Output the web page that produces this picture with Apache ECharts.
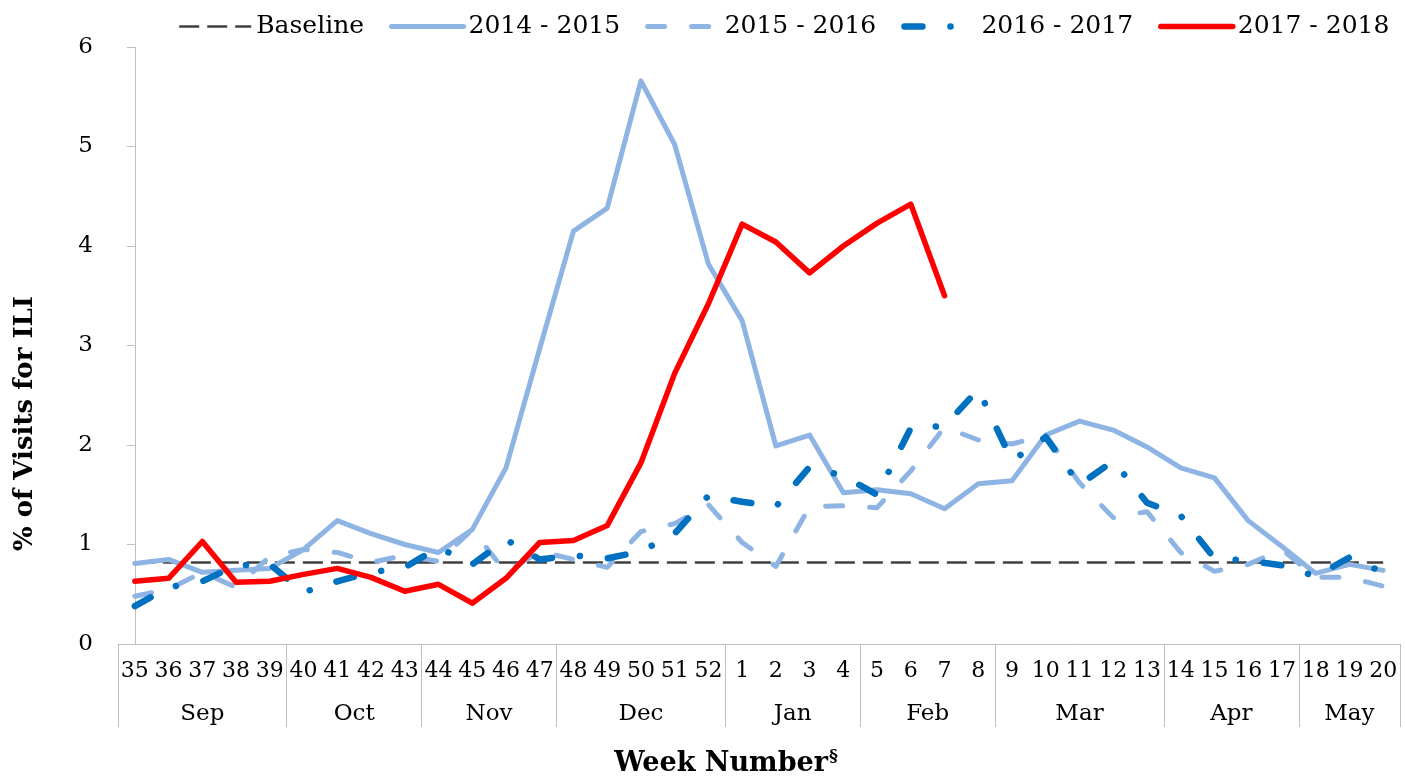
<!DOCTYPE html>
<html>
<head>
<meta charset="utf-8">
<script src="https://cdn.jsdelivr.net/npm/echarts@6/dist/echarts.min.js"></script>
<style>
html,body{margin:0;padding:0;background:#fff;}
#chart{width:1405px;height:782px;}
</style>
</head>
<body>
<div id="chart"></div>
<script>
const weeks = ['35','36','37','38','39','40','41','42','43','44','45','46','47','48','49','50','51','52',
  '1','2','3','4','5','6','7','8','9','10','11','12','13','14','15','16','17','18','19','20'];
const months = ['Sep','Oct','Nov','Dec','Jan','Feb','Mar','Apr','May'];
const monthWeekCounts = [5,4,4,5,4,4,5,4,3];
const yTicks = [0,1,2,3,4,5,6];

const baselineValue = 0.82;
const s2014 = [0.81,0.85,0.72,0.74,0.76,0.95,1.24,1.11,1.00,0.92,1.15,1.77,2.97,4.15,4.38,5.66,5.02,3.82,
  3.25,1.99,2.10,1.52,1.55,1.51,1.36,1.61,1.64,2.10,2.24,2.15,1.98,1.77,1.67,1.24,0.98,0.71,0.80,0.74];
const s2015 = [0.48,0.55,0.72,0.57,0.88,0.95,0.92,0.82,0.89,0.83,1.15,0.72,0.93,0.85,0.77,1.13,1.21,1.40,
  1.02,0.78,1.38,1.39,1.37,1.74,2.18,2.05,2.01,2.10,1.62,1.27,1.33,0.92,0.73,0.80,0.95,0.67,0.67,0.58];
const s2016 = [0.38,0.57,0.63,0.79,0.80,0.52,0.63,0.72,0.77,0.97,0.80,1.05,0.85,0.89,0.86,0.93,1.11,1.49,
  1.43,1.38,1.78,1.69,1.50,2.17,2.19,2.56,1.84,2.08,1.60,1.84,1.42,1.29,0.86,0.84,0.79,0.68,0.87,0.72];
const s2017 = [0.63,0.66,1.03,0.62,0.63,0.70,0.76,0.67,0.53,0.60,0.41,0.66,1.02,1.04,1.19,1.82,2.72,3.42,
  4.22,4.04,3.73,4.00,4.23,4.42,3.50,null,null,null,null,null,null,null,null,null,null,null,null,null];

// derived month-axis positions (category index space)
const monthBounds = [-0.5];
const monthCenters = [];
let acc = -0.5;
monthWeekCounts.forEach(c => { monthCenters.push(acc + c / 2); acc += c; monthBounds.push(acc); });

const FONT = 'DejaVu Serif';
const styles = {
  'Baseline':    {color: '#404040', width: 2.5, type: [20, 8], cap: 'butt'},
  '2014 - 2015': {color: '#8EB4E3', width: 5, type: 'solid', cap: 'round'},
  '2015 - 2016': {color: '#8EB4E3', width: 5, type: [17, 27], cap: 'round'},
  '2016 - 2017': {color: '#0070C0', width: 6.5, type: [18, 28, 0.1, 28], cap: 'round'},
  '2017 - 2018': {color: '#FF0000', width: 5.5, type: 'solid', cap: 'round'}
};
const seriesNames = Object.keys(styles);
const seriesData = {
  'Baseline': weeks.map(() => baselineValue),
  '2014 - 2015': s2014,
  '2015 - 2016': s2015,
  '2016 - 2017': s2016,
  '2017 - 2018': s2017
};

const chart = echarts.init(document.getElementById('chart'), null, {renderer: 'canvas'});

const option = {
  backgroundColor: '#fff',
  animation: false,
  textStyle: {fontFamily: FONT, color: '#000'},
  legend: {
    top: 14,
    left: 178,
    right: 0,
    padding: 0,
    itemWidth: 72,
    itemHeight: 14,
    itemGap: 25,
    textStyle: {fontFamily: FONT, fontSize: 25, color: '#000'},
    data: seriesNames.map(n => ({
      name: n,
      itemStyle: {opacity: 0, color: 'rgba(0,0,0,0)', borderWidth: 0},
      lineStyle: {color: styles[n].color, width: styles[n].width, type: styles[n].type, cap: styles[n].cap}
    }))
  },
  grid: {left: 118, right: 5, top: 47, bottom: 135, containLabel: false},
  xAxis: [
    {
      type: 'category',
      data: weeks,
      boundaryGap: true,
      position: 'bottom',
      axisLine: {lineStyle: {color: '#bfbfbf', width: 1}},
      axisTick: {show: false},
      axisLabel: {interval: 0, fontFamily: FONT, fontSize: 22, color: '#000', margin: 16},
      splitLine: {show: false}
    },
    {
      type: 'value',
      min: -0.5,
      max: 37.5,
      position: 'bottom',
      axisLine: {show: false},
      axisTick: {show: true, customValues: monthBounds, length: 83, lineStyle: {color: '#bfbfbf', width: 1}},
      axisLabel: {
        customValues: monthCenters,
        fontFamily: FONT, fontSize: 23, color: '#000', margin: 59,
        formatter: function (v) {
          const i = monthCenters.findIndex(c => Math.abs(c - v) < 1e-6);
          return i >= 0 ? months[i] : '';
        }
      },
      splitLine: {show: false},
      name: 'Week Number{sup|§}',
      nameLocation: 'middle',
      nameGap: 104,
      nameTextStyle: {
        fontFamily: FONT, fontSize: 27, fontWeight: 'bold', color: '#000',
        padding: [0, 66, 0, 0],
        rich: {sup: {fontFamily: FONT, fontSize: 17, fontWeight: 'bold', color: '#000', verticalAlign: 'top', padding: [0, 0, 14, 1]}}
      }
    }
  ],
  yAxis: {
    type: 'value',
    min: yTicks[0],
    max: yTicks[yTicks.length - 1],
    interval: 1,
    axisLine: {show: true, lineStyle: {color: '#bfbfbf', width: 1}},
    axisTick: {show: true, length: 8, lineStyle: {color: '#bfbfbf'}},
    axisLabel: {fontFamily: FONT, fontSize: 23, color: '#000', margin: 25},
    splitLine: {show: false},
    name: '% of Visits for ILI',
    nameLocation: 'middle',
    nameGap: 80,
    nameTextStyle: {fontFamily: FONT, fontSize: 26, fontWeight: 'bold', color: '#000', padding: [0, 156, 0, 0]}
  },
  series: seriesNames.map(n => ({
    name: n,
    type: 'line',
    symbol: 'none',
    data: seriesData[n],
    lineStyle: {color: styles[n].color, width: styles[n].width, type: styles[n].type, cap: styles[n].cap, join: 'round'},
    itemStyle: {color: styles[n].color}
  }))
};
chart.setOption(option);
</script>
</body>
</html>
